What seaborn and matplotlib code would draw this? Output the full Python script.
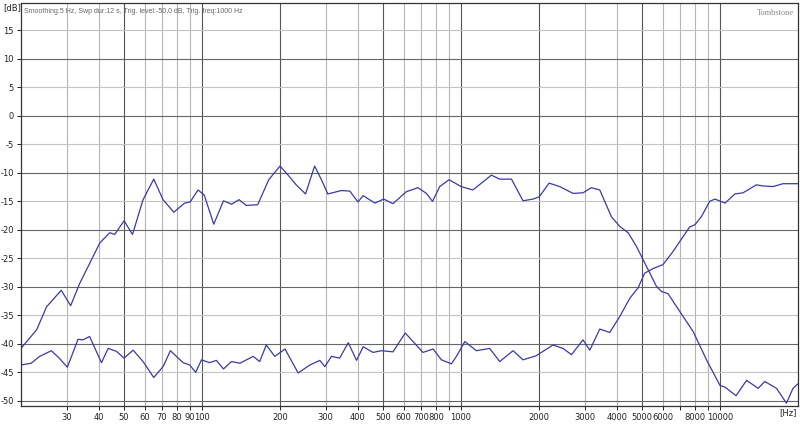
import matplotlib
matplotlib.use("Agg")
import matplotlib.pyplot as plt
import seaborn as sns
import pandas as pd
import numpy as np

# ---- data ----
woofer_freq = [20, 23.0, 25.1, 28.6, 31.1, 33.7, 40.3, 44.0, 46.0, 50, 53.9, 59.2, 65.1, 70.7, 77.8,
               85.7, 90, 96.5, 102, 111, 121, 130, 139, 148, 164, 181, 200, 215, 231, 251, 272, 289,
               306, 345, 372, 400, 419, 465, 503, 546, 615, 682, 735, 776, 828, 899, 1000, 1111, 1199,
               1310, 1410, 1566, 1735, 1896, 2005, 2187, 2404, 2706, 2958, 3187, 3433, 3808, 4101,
               4417, 4757, 5199, 5680, 5941, 6300, 6986, 7865, 8867, 10000, 10460, 11530, 12660,
               14030, 14890, 16520, 18050, 19130, 20000]
woofer_db = [-40.8, -37.5, -33.5, -30.6, -33.3, -29.4, -22.3, -20.5, -20.8, -18.4, -20.8, -14.7, -11.1,
             -14.7, -16.9, -15.3, -15.1, -13.0, -13.9, -19.0, -14.9, -15.5, -14.7, -15.7, -15.6, -11.2,
             -8.8, -10.4, -12.1, -13.7, -8.8, -11.2, -13.7, -13.1, -13.2, -15.1, -14.0, -15.3, -14.6,
             -15.4, -13.3, -12.6, -13.6, -15.0, -12.4, -11.2, -12.4, -13.0, -11.8, -10.4, -11.1, -11.1,
             -14.9, -14.6, -14.2, -11.8, -12.4, -13.6, -13.5, -12.6, -13.0, -17.7, -19.4, -20.5, -22.9,
             -26.4, -29.9, -30.8, -31.2, -34.3, -37.8, -42.8, -47.3, -47.6, -49.1, -46.4, -47.8, -46.6,
             -47.8, -50.4, -47.8, -47.0]

tweeter_freq = [20, 21.9, 23.6, 26.2, 28.1, 30.2, 33.2, 34.7, 36.8, 40.9, 43.4, 46.7, 50, 54.2, 59.2,
                65.1, 70.7, 75.5, 84.5, 89.6, 94.5, 99.5, 107, 113.6, 121, 130, 140, 157.5, 167, 177,
                191, 209, 235, 261, 285, 298, 316, 340, 367, 395, 419, 457, 493, 546, 609, 662, 713,
                780, 840, 918, 960, 1034, 1147, 1290, 1410, 1589, 1735, 1947, 2266, 2477, 2669, 2958,
                3142, 3433, 3751, 4101, 4483, 4822, 5117, 5508, 6021, 6585, 7197, 7636, 7998, 8470,
                9121, 9560, 10460, 11410, 12270, 13820, 14680, 16040, 17510, 20000]
tweeter_db = [-43.7, -43.4, -42.2, -41.2, -42.5, -44.1, -39.2, -39.3, -38.7, -43.3, -40.8, -41.3, -42.5,
              -41.1, -43.1, -45.9, -44.0, -41.2, -43.3, -43.7, -45.0, -42.8, -43.3, -42.9, -44.4, -43.1,
              -43.4, -42.2, -43.1, -40.2, -42.2, -40.9, -45.1, -43.7, -42.9, -44.0, -42.2, -42.5, -39.8,
              -42.9, -40.5, -41.5, -41.2, -41.4, -38.1, -39.9, -41.5, -40.9, -42.8, -43.5, -42.2, -39.6,
              -41.2, -40.8, -43.1, -41.2, -42.8, -42.1, -40.2, -40.8, -41.9, -39.3, -41.1, -37.4, -38.0,
              -35.2, -32.0, -30.2, -27.6, -26.8, -26.1, -23.8, -21.2, -19.5, -19.1, -17.7, -15.0, -14.6,
              -15.3, -13.7, -13.5, -12.1, -12.3, -12.4, -11.9, -11.9]

x_ticks = [30, 40, 50, 60, 70, 80, 90, 100, 200, 300, 400, 500, 600, 700, 800, 900, 1000,
           2000, 3000, 4000, 5000, 6000, 7000, 8000, 9000, 10000]
x_tick_labels = ["30", "40", "50", "60", "70", "80", "90", "100", "200", "300", "400", "500", "600",
                 "700", "800", "", "1000", "2000", "3000", "4000", "5000", "6000", "", "8000", "",
                 "10000"]
y_ticks = [15, 10, 5, 0, -5, -10, -15, -20, -25, -30, -35, -40, -45, -50]

info_text = "Smoothing:5 Hz, Swp dur:12 s, Trig. level:-50,0 dB, Trig. freq:1000 Hz"

# ---- plot ----
sns.set_style("white")
plt.rcParams['font.family'] = ['DejaVu Sans']

fig = plt.figure(figsize=(8, 4.26), dpi=100)
ax = fig.add_axes([21 / 800, 20 / 426, 777 / 800, 403 / 426])

dfw = pd.DataFrame({"freq": woofer_freq, "db": woofer_db})
dft = pd.DataFrame({"freq": tweeter_freq, "db": tweeter_db})
line_col = "#3a3aa6"
sns.lineplot(data=dfw, x="freq", y="db", ax=ax, color=line_col, linewidth=0.9, sort=False)
sns.lineplot(data=dft, x="freq", y="db", ax=ax, color=line_col, linewidth=0.9, sort=False)

ax.set_xscale("log")
ax.set_xlim(20, 20000)
ax.set_ylim(-50.9, 19.8)

# grid lines
dark_x = {50, 100, 200, 500, 1000, 2000, 5000, 10000}
for xv in x_ticks:
    ax.axvline(xv, color="#555555" if xv in dark_x else "#b4b4b4", lw=0.8, zorder=0)
for yv in y_ticks:
    ax.axhline(yv, color="#666666" if yv % 10 == 0 else "#c4c4c4", lw=0.8, zorder=0)

ax.set_xticks(x_ticks)
ax.set_xticklabels(x_tick_labels)
ax.xaxis.set_minor_locator(matplotlib.ticker.NullLocator())
ax.set_yticks(y_ticks)
ax.set_yticklabels([str(v) for v in y_ticks])
ax.tick_params(axis="both", which="major", labelsize=6, colors="#222222", length=3, width=0.7,
               direction="out", pad=2)
ax.tick_params(axis="x", bottom=True)
ax.tick_params(axis="y", left=True)
ax.set_xlabel("")
ax.set_ylabel("")
for s in ax.spines.values():
    s.set_color("#333333")
    s.set_linewidth(0.9)

fig.text(3 / 800, 1 - 8 / 426, "[dB]", fontsize=6, color="#222222", va="center", ha="left")
fig.text(797 / 800, 1 - 413 / 426, "[Hz]", fontsize=6, color="#222222", va="center", ha="right")
ax.text(0.004, 0.988, info_text, transform=ax.transAxes, fontsize=5, color="#666666",
        va="top", ha="left", family=["Liberation Sans Narrow", "Liberation Sans", "DejaVu Sans"])
ax.text(0.995, 0.985, "Tombstone", transform=ax.transAxes, fontsize=6, color="#888888",
        va="top", ha="right", family=["Liberation Serif", "DejaVu Serif"])

fig.savefig("out.png", dpi=100)
